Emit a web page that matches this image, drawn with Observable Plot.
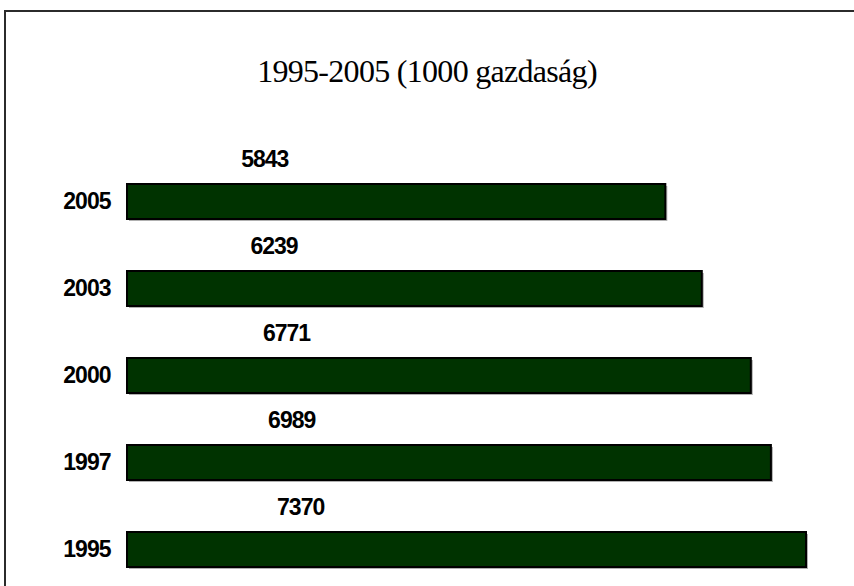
<!DOCTYPE html>
<html>
<head>
<meta charset="utf-8">
<script src="https://cdn.jsdelivr.net/npm/d3@7"></script>
<script src="https://cdn.jsdelivr.net/npm/@observablehq/plot@0.6"></script>
<style>
  html, body { margin: 0; padding: 0; background: #fff; }
  #wrap { position: relative; width: 854px; height: 586px; overflow: hidden; }
  #frame { position: absolute; left: 4px; top: 10px; width: 900px; height: 700px;
           border-top: 2px solid #2b2b2b; border-left: 2px solid #2b2b2b; box-sizing: border-box; }
  #title { position: relative; height: 140px; box-sizing: border-box; padding-top: 55px;
           font-family: "Liberation Serif", "Times New Roman", serif; font-size: 32px;
           line-height: 32px; text-align: center; color: #000; letter-spacing: -0.7px; }
  #chart { position: relative; }
  #chart svg { display: block; }
</style>
</head>
<body>
<div id="wrap">
  <div id="frame"></div>
  <div id="title">1995-2005 (1000 gazdaság)</div>
  <div id="chart"></div>
</div>
<script>
const years = ["2005", "2003", "2000", "1997", "1995"];
const values = [5843, 6239, 6771, 6989, 7370];

const data = years.map((year, i) => ({year, value: values[i]}));

const chart = Plot.plot({
  width: 854,
  height: 446,
  marginLeft: 127,
  marginRight: 48,
  marginTop: 34,
  marginBottom: 9,
  style: {
    fontFamily: "'Liberation Sans', Arial, sans-serif",
    fontSize: "23px",
    fontWeight: "bold",
    letterSpacing: "-1px",
    color: "#000",
    background: "transparent",
    overflow: "visible"
  },
  x: {domain: [0, 7370], axis: null},
  y: {domain: years, paddingInner: 0.6, paddingOuter: 0.1, label: null},
  marks: [
    Plot.barX(data, {x: "value", y: "year", fill: "#b0b0b0", dx: 2, dy: 2}),
    Plot.barX(data, {x: "value", y: "year", fill: "#003300", stroke: "#000", strokeWidth: 2}),
    Plot.text(data, {
      x: d => d.value * 0.255,
      y: "year",
      text: d => String(d.value),
      dy: -42,
      fontSize: 23,
      fontWeight: "bold",
      fill: "#000"
    }),
    Plot.axisY({tickSize: 0, tickPadding: 17, fontSize: 23, fontWeight: "bold", label: null})
  ]
});
document.getElementById("chart").appendChild(chart);
</script>
</body>
</html>
